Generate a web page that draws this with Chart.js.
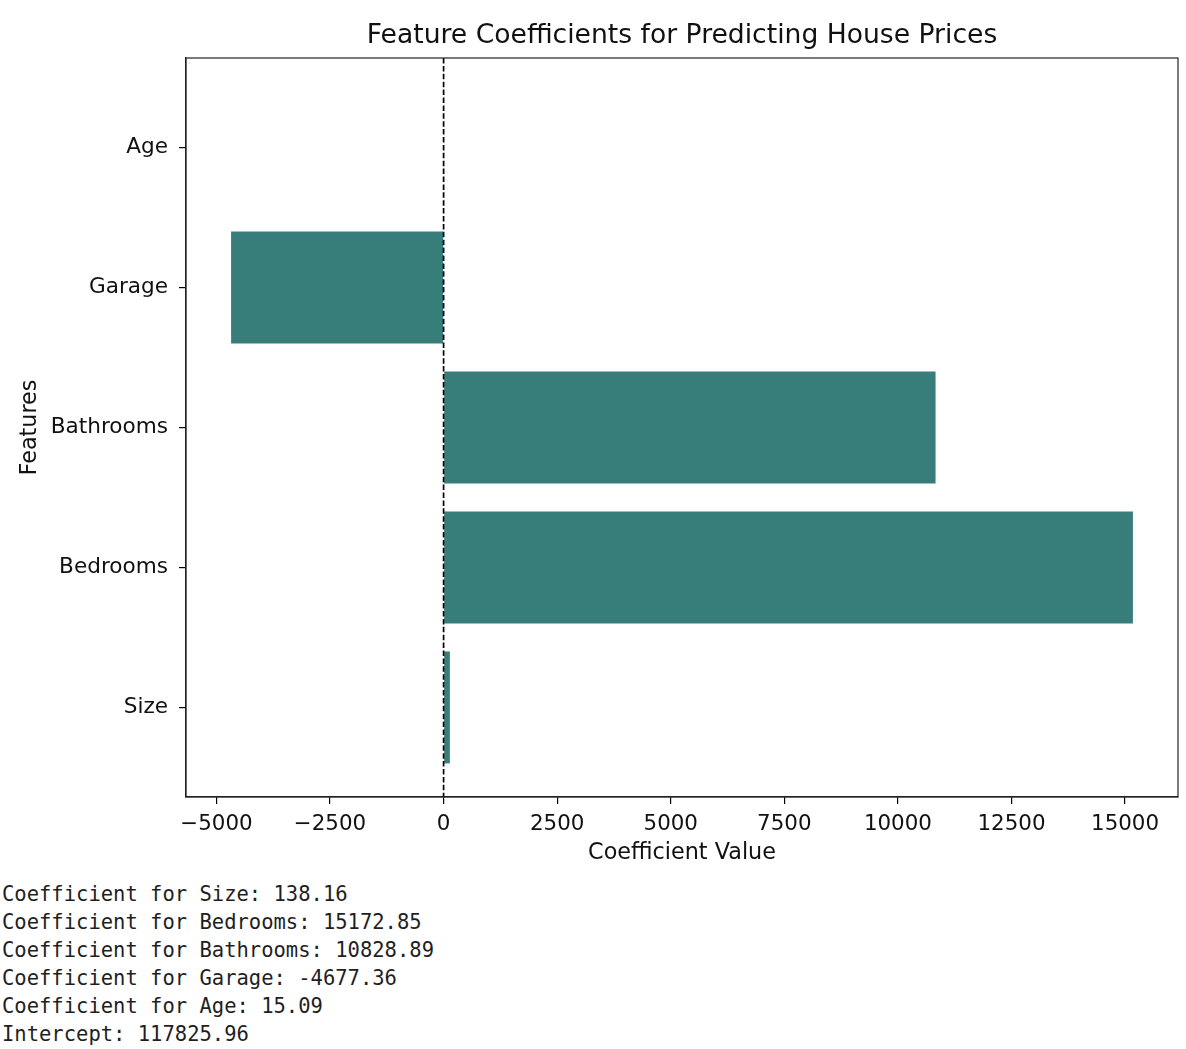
<!DOCTYPE html>
<html>
<head>
<meta charset="utf-8">
<script src="https://cdn.jsdelivr.net/npm/chart.js@4.4.0/dist/chart.umd.min.js"></script>
<style>
  body { margin: 0; background: #fff; }
  #wrap { position: relative; width: 1186px; height: 1049px; }
  #salida {
    position: absolute; left: 2px; top: 880px; margin: 0;
    font-family: "DejaVu Sans Mono", monospace; font-size: 20.5px; line-height: 28px;
    color: #1f1f1f; white-space: pre;
  }
</style>
</head>
<body>
<div id="wrap">
  <canvas id="grafico" width="1186" height="870"></canvas>
  <pre id="salida"></pre>
</div>
<script>
// datos del modelo
const features = ["Size", "Bedrooms", "Bathrooms", "Garage", "Age"];
const coefficients = [138.16, 15172.85, 10828.89, -4677.36, 15.09];
const intercept = 117825.96;
const xTicks = [-5000, -2500, 0, 2500, 5000, 7500, 10000, 12500, 15000];

const fuente = "'DejaVu Sans', sans-serif";
const colorTexto = "#111";

// limites como matplotlib (margen del 5%)
const lo = Math.min(0, ...coefficients), hi = Math.max(0, ...coefficients);
const margen = 0.05 * (hi - lo);

const puntos = coefficients.map((c, i) => ({ x: c, y: i }));

const extras = {
  id: "extras",
  afterDatasetsDraw(chart) {
    const { ctx, chartArea: a, scales } = chart;
    const x0 = scales.x.getPixelForValue(0);
    ctx.save();
    ctx.strokeStyle = "#000";
    ctx.lineWidth = 1.7;
    ctx.setLineDash([5.5, 2.4]);
    ctx.beginPath();
    ctx.moveTo(x0, a.top);
    ctx.lineTo(x0, a.bottom);
    ctx.stroke();
    ctx.setLineDash([]);
    ctx.lineWidth = 1.2;
    ctx.strokeStyle = "#222";
    ctx.strokeRect(a.left, a.top, a.right - a.left, a.bottom - a.top);
    // titulo centrado sobre el area del grafico
    ctx.fillStyle = colorTexto;
    ctx.font = "26.6px " + fuente;
    ctx.textAlign = "center";
    ctx.textBaseline = "alphabetic";
    ctx.fillText("Feature Coefficients for Predicting House Prices", (a.left + a.right) / 2, a.top - 15);
    ctx.restore();
  }
};

new Chart(document.getElementById("grafico").getContext("2d"), {
  type: "bar",
  data: {
    datasets: [{
      data: puntos,
      backgroundColor: "#377e7b",
      borderWidth: 0,
      categoryPercentage: 0.8,
      barPercentage: 1
    }]
  },
  options: {
    indexAxis: "y",
    responsive: false,
    animation: false,
    layout: { padding: { top: 58, right: 8, left: 0, bottom: 0 } },
    plugins: { legend: { display: false }, tooltip: { enabled: false }, title: { display: false } },
    scales: {
      x: {
        type: "linear",
        min: lo - margen,
        max: hi + margen,
        offset: false,
        afterBuildTicks: s => { s.ticks = xTicks.map(v => ({ value: v })); },
        afterFit: s => { s.height = 73; },
        grid: { offset: false, drawOnChartArea: false, drawTicks: true, tickLength: 7, color: "#000", lineWidth: 1.2 },
        border: { display: true, color: "#222", width: 1.2 },
        ticks: {
          autoSkip: false, maxRotation: 0, padding: 8, color: colorTexto,
          font: { family: fuente, size: 21.4 },
          callback: v => String(v).replace("-", "\u2212")
        },
        title: { display: true, text: "Coefficient Value", color: colorTexto, font: { family: fuente, size: 22.3 }, padding: { top: 0, bottom: 3 } }
      },
      y: {
        type: "linear",
        min: -0.64,
        max: features.length - 1 + 0.64,
        offset: false,
        afterBuildTicks: s => { s.ticks = features.map((f, i) => ({ value: i })); },
        afterFit: s => { s.width = 186; },
        grid: { offset: false, drawOnChartArea: false, drawTicks: true, tickLength: 7, color: "#000", lineWidth: 1.2 },
        border: { display: true, color: "#222", width: 1.2 },
        ticks: {
          autoSkip: false, padding: 11, color: colorTexto,
          font: { family: fuente, size: 21.6 },
          callback: v => features[v]
        },
        title: { display: true, text: "Features", color: colorTexto, font: { family: fuente, size: 22.3 }, padding: { top: 17, bottom: 0 } }
      }
    }
  },
  plugins: [extras]
});

const lineas = features.map((f, i) => `Coefficient for ${f}: ${coefficients[i].toFixed(2)}`);
lineas.push(`Intercept: ${intercept.toFixed(2)}`);
document.getElementById("salida").textContent = lineas.join("\n");
</script>
</body>
</html>
